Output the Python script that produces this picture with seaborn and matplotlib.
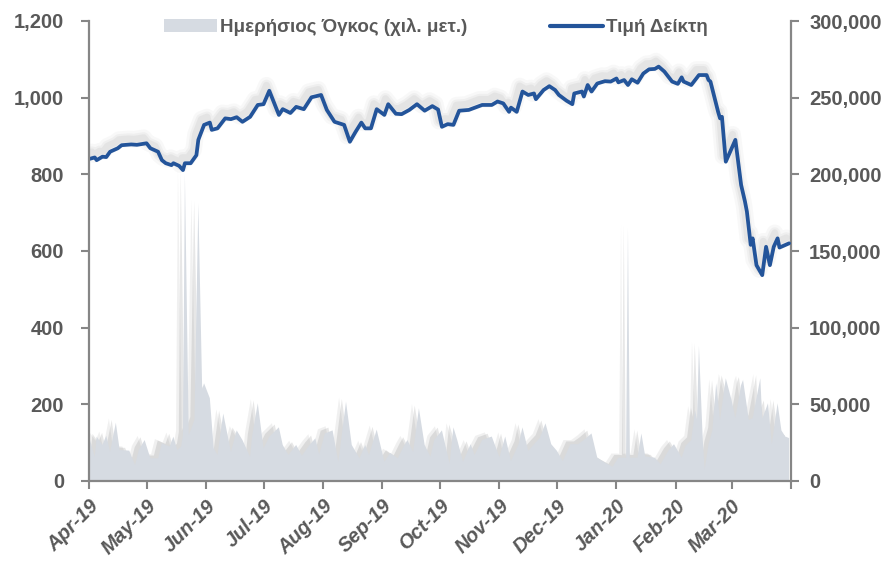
import matplotlib
matplotlib.use("Agg")
import numpy as np
import pandas as pd
import matplotlib.pyplot as plt
import matplotlib.patheffects as pe
from matplotlib.patches import Patch
from matplotlib.lines import Line2D
from matplotlib.ticker import FuncFormatter
from matplotlib import font_manager
import seaborn as sns

# ---------------- data ----------------
index_dates = [
    "2019-04-01", "2019-04-04", "2019-04-05", "2019-04-08", "2019-04-10", "2019-04-12",
    "2019-04-16", "2019-04-18", "2019-04-23", "2019-04-26", "2019-05-01", "2019-05-03",
    "2019-05-07", "2019-05-09", "2019-05-11", "2019-05-14", "2019-05-15", "2019-05-18",
    "2019-05-20", "2019-05-21", "2019-05-24", "2019-05-27", "2019-05-28", "2019-05-31",
    "2019-06-03", "2019-06-04", "2019-06-07", "2019-06-11", "2019-06-14", "2019-06-17",
    "2019-06-20", "2019-06-24", "2019-06-28", "2019-07-01", "2019-07-04", "2019-07-09",
    "2019-07-11", "2019-07-15", "2019-07-18", "2019-07-22", "2019-07-26", "2019-07-31",
    "2019-08-03", "2019-08-07", "2019-08-12", "2019-08-15", "2019-08-18", "2019-08-21",
    "2019-08-23", "2019-08-26", "2019-08-29", "2019-09-02", "2019-09-04", "2019-09-08",
    "2019-09-11", "2019-09-15", "2019-09-19", "2019-09-23", "2019-09-27", "2019-09-30",
    "2019-10-02", "2019-10-05", "2019-10-08", "2019-10-11", "2019-10-16", "2019-10-23",
    "2019-10-28", "2019-10-31", "2019-11-03", "2019-11-06", "2019-11-07", "2019-11-10",
    "2019-11-13", "2019-11-16", "2019-11-19", "2019-11-20", "2019-11-24", "2019-11-27",
    "2019-11-30", "2019-12-02", "2019-12-06", "2019-12-09", "2019-12-10", "2019-12-14",
    "2019-12-15", "2019-12-17", "2019-12-19", "2019-12-22", "2019-12-26", "2019-12-29",
    "2020-01-01", "2020-01-02", "2020-01-05", "2020-01-07", "2020-01-09", "2020-01-12",
    "2020-01-15", "2020-01-18", "2020-01-21", "2020-01-23", "2020-01-26", "2020-01-30",
    "2020-02-02", "2020-02-04", "2020-02-05", "2020-02-09", "2020-02-13", "2020-02-17",
    "2020-02-18", "2020-02-19", "2020-02-23", "2020-02-24", "2020-02-25", "2020-02-27",
    "2020-03-03", "2020-03-06", "2020-03-08", "2020-03-09", "2020-03-11", "2020-03-12",
    "2020-03-14", "2020-03-17", "2020-03-19", "2020-03-21", "2020-03-23", "2020-03-25",
    "2020-03-26", "2020-03-31",
]
index_values = [
    840, 844, 837, 846, 845, 859,
    868, 876, 878, 877, 881, 868,
    859, 837, 829, 824, 829, 822,
    811, 829, 829, 850, 890, 929,
    935, 916, 920, 946, 944, 949,
    937, 950, 981, 983, 1018, 955,
    970, 960, 976, 970, 1001, 1007,
    968, 937, 929, 885, 911, 935,
    920, 920, 970, 955, 983, 958,
    957, 968, 983, 966, 978, 969,
    924, 931, 929, 966, 968, 981,
    981, 990, 985, 963, 974, 963,
    1016, 1007, 1011, 996, 1020, 1030,
    1020, 1007, 992, 983, 1011, 1016,
    1003, 1033, 1016, 1037, 1043, 1042,
    1050, 1040, 1046, 1033, 1048, 1039,
    1063, 1074, 1075, 1081, 1068, 1042,
    1036, 1053, 1042, 1033, 1059, 1059,
    1046, 1042, 963, 946, 950, 833,
    890, 772, 729, 703, 616, 633,
    563, 537, 611, 563, 611, 633,
    609, 620,
]

volume_dates = [
    "2019-04-01", "2019-04-04", "2019-04-05", "2019-04-08", "2019-04-10", "2019-04-12",
    "2019-04-15", "2019-04-17", "2019-04-22", "2019-04-25", "2019-04-27", "2019-04-30",
    "2019-05-03", "2019-05-07", "2019-05-09", "2019-05-13", "2019-05-15", "2019-05-17",
    "2019-05-19", "2019-05-20", "2019-05-21", "2019-05-23", "2019-05-24", "2019-05-26",
    "2019-05-28", "2019-05-30", "2019-05-31", "2019-06-03", "2019-06-05", "2019-06-07",
    "2019-06-10", "2019-06-14", "2019-06-17", "2019-06-20", "2019-06-24", "2019-06-25",
    "2019-06-28", "2019-07-01", "2019-07-04", "2019-07-09", "2019-07-11", "2019-07-14",
    "2019-07-18", "2019-07-21", "2019-07-25", "2019-07-28", "2019-07-30", "2019-08-02",
    "2019-08-06", "2019-08-09", "2019-08-13", "2019-08-16", "2019-08-20", "2019-08-23",
    "2019-08-25", "2019-08-29", "2019-09-02", "2019-09-05", "2019-09-09", "2019-09-12",
    "2019-09-14", "2019-09-17", "2019-09-20", "2019-09-23", "2019-09-26", "2019-09-28",
    "2019-10-02", "2019-10-06", "2019-10-08", "2019-10-10", "2019-10-13", "2019-10-17",
    "2019-10-19", "2019-10-23", "2019-10-28", "2019-11-01", "2019-11-04", "2019-11-07",
    "2019-11-11", "2019-11-13", "2019-11-16", "2019-11-19", "2019-11-22", "2019-11-25",
    "2019-11-28", "2019-12-01", "2019-12-04", "2019-12-08", "2019-12-12", "2019-12-15",
    "2019-12-19", "2019-12-22", "2019-12-26", "2019-12-30", "2020-01-02", "2020-01-05",
    "2020-01-06", "2020-01-07", "2020-01-08", "2020-01-09", "2020-01-12", "2020-01-14",
    "2020-01-16", "2020-01-21", "2020-01-24", "2020-01-28", "2020-01-31", "2020-02-04",
    "2020-02-06", "2020-02-09", "2020-02-11", "2020-02-12", "2020-02-13", "2020-02-15",
    "2020-02-16", "2020-02-18", "2020-02-20", "2020-02-22", "2020-02-24", "2020-02-27",
    "2020-03-01", "2020-03-03", "2020-03-06", "2020-03-07", "2020-03-10", "2020-03-12",
    "2020-03-16", "2020-03-17", "2020-03-20", "2020-03-22", "2020-03-25", "2020-03-27",
    "2020-03-29", "2020-03-31",
]
volume_values = [
    28900, 15800, 28900, 23500, 29500, 19100,
    38000, 20200, 19800, 10400, 20200, 26700,
    14800, 14800, 24600, 22400, 28900, 20200,
    22400, 30000, 200000, 30000, 33000, 40000,
    181000, 60000, 63700, 54000, 21300, 17000,
    44000, 19000, 33000, 26700, 15800, 28900,
    50700, 21300, 28900, 35000, 23500, 17000,
    23500, 16500, 23500, 27800, 17400, 31000,
    33000, 12600, 51700, 23500, 14800, 23500,
    17000, 33500, 12600, 18300, 14800, 22400,
    26700, 19000, 47400, 23500, 15800, 26700,
    33000, 11500, 35000, 26700, 12600, 24000,
    17000, 26700, 29000, 15500, 29000, 13000,
    24000, 35000, 19600, 24000, 28000, 37600,
    24000, 19600, 13000, 24000, 24000, 26700,
    31000, 15200, 12000, 9300, 15200, 15200,
    15000, 165000, 15000, 15200, 15200, 31000,
    16000, 15200, 11000, 19600, 24000, 15200,
    23000, 26700, 46000, 40000, 88000, 26700,
    7600, 24000, 33000, 63700, 39800, 67000,
    52800, 41000, 62600, 65900, 39800, 41000,
    67000, 40500, 50700, 24000, 50700, 33000,
    29000, 28000,
]

month_labels = ["Apr-19", "May-19", "Jun-19", "Jul-19", "Aug-19", "Sep-19",
                "Oct-19", "Nov-19", "Dec-19", "Jan-20", "Feb-20", "Mar-20"]
legend_labels = ["Ημερήσιος Όγκος (χιλ. μετ.)", "Τιμή Δείκτη"]

# ---------------- style ----------------
sns.set_theme(style="white")
names = {f.name for f in font_manager.fontManager.ttflist}
main_font = "Liberation Sans" if "Liberation Sans" in names else "DejaVu Sans"
narrow_font = "Liberation Sans Narrow" if "Liberation Sans Narrow" in names else main_font
plt.rcParams["font.family"] = [main_font, "DejaVu Sans"]

LINE_C = "#23549a"
AREA_C = "#d6dbe2"
TXT_C = "#595959"
AX_C = "#868686"

idx_df = pd.DataFrame({"date": pd.to_datetime(index_dates), "value": index_values})
vol_df = pd.DataFrame({"date": pd.to_datetime(volume_dates), "volume": volume_values})

W, H = 892, 564
fig = plt.figure(figsize=(W / 100, H / 100), dpi=100)
x0, x1, y0, y1 = 89, 791, 481, 21
ax = fig.add_axes([x0 / W, 1 - y0 / H, (x1 - x0) / W, (y0 - y1) / H])
ax2 = ax.twinx()

# volume area (right axis)
ax2.fill_between(vol_df["date"], vol_df["volume"], 0, color=AREA_C, lw=0,
                 path_effects=[pe.SimplePatchShadow(offset=(-5, 3), shadow_rgbFace="#8a8a8a", alpha=0.12),
                               pe.SimplePatchShadow(offset=(-3, 2), shadow_rgbFace="#7a7a7a", alpha=0.18),
                               pe.Normal()])
ax2.set_ylim(0, 300000)

# index line (left axis)
sns.lineplot(data=idx_df, x="date", y="value", ax=ax, color=LINE_C, lw=2.7,
             path_effects=[pe.SimpleLineShadow(offset=(-2, 4), shadow_color="#808080", alpha=0.05, linewidth=12),
                           pe.SimpleLineShadow(offset=(-2, 4), shadow_color="#808080", alpha=0.07, linewidth=8),
                           pe.SimpleLineShadow(offset=(-2, 4), shadow_color="#808080", alpha=0.09, linewidth=5),
                           pe.Normal()])
ax.set_ylim(0, 1200)
ax.set_zorder(ax2.get_zorder() + 1)
ax.patch.set_visible(False)

# x axis
months = pd.date_range("2019-04-01", "2020-04-01", freq="MS")
ax.set_xlim(months[0], months[-1])
ax.set_xticks(months)
ax.set_xticklabels(month_labels + [""], rotation=45, ha="right", rotation_mode="anchor",
                   fontstyle="italic", fontweight="bold", fontsize=14.5, color=TXT_C)
ax.set_xlabel("")
ax.set_ylabel("")
ax2.set_ylabel("")

ax.set_yticks(np.arange(0, 1201, 200))
ax.yaxis.set_major_formatter(FuncFormatter(lambda v, p: f"{int(v):,}"))
ax2.set_yticks(np.arange(0, 300001, 50000))
ax2.yaxis.set_major_formatter(FuncFormatter(lambda v, p: f"{int(v):,}"))

for a in (ax, ax2):
    for s in a.spines.values():
        s.set_visible(False)
ax.spines["left"].set_visible(True)
ax.spines["bottom"].set_visible(True)
ax2.spines["right"].set_visible(True)
for s in (ax.spines["left"], ax.spines["bottom"], ax2.spines["right"]):
    s.set_color(AX_C)
    s.set_linewidth(1.6)

ax.tick_params(axis="y", left=True, direction="out", length=6, width=1.5, color=AX_C,
               pad=12, labelsize=14.5, labelcolor=TXT_C)
ax.tick_params(axis="x", bottom=True, direction="out", length=6, width=1.5, color=AX_C,
               pad=5)
ax2.tick_params(axis="y", right=True, direction="out", length=6, width=1.5, color=AX_C,
                pad=7, labelsize=14.5, labelcolor=TXT_C)
for lab in ax.get_yticklabels() + ax2.get_yticklabels():
    lab.set_fontweight("bold")

# legend
handles = [Patch(facecolor=AREA_C, edgecolor="none"), Line2D([], [], color=LINE_C, lw=3)]
fig.legend(handles, legend_labels, loc="center", bbox_to_anchor=(0.489, 0.952), ncol=2,
           frameon=False, handlelength=2.8, handletextpad=0.2, columnspacing=4.4,
           prop={"family": [narrow_font, "DejaVu Sans"], "weight": "bold", "size": 13.5},
           labelcolor=TXT_C)

fig.savefig("out.png", dpi=100)
